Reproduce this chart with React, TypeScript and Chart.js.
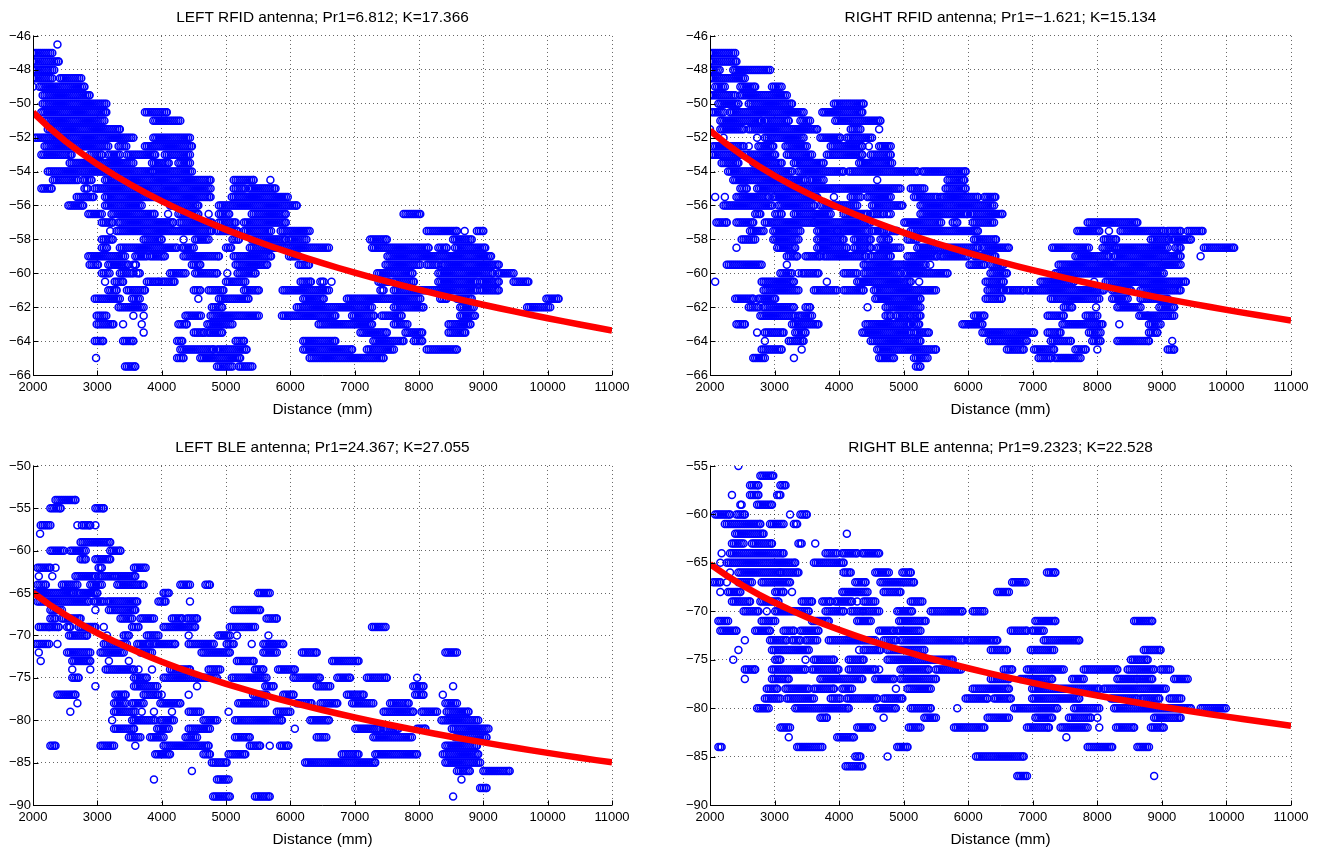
import React, { useEffect, useRef } from "react";
import { Chart, registerables } from "chart.js";

Chart.register(...registerables);

// ---------------- data ----------------
const X_TICKS = [2000, 3000, 4000, 5000, 6000, 7000, 8000, 9000, 10000, 11000];
const RFID_Y_TICKS = [-66, -64, -62, -60, -58, -56, -54, -52, -50, -48, -46];
const LEFT_BLE_Y_TICKS = [-90, -85, -80, -75, -70, -65, -60, -55, -50];
const RIGHT_BLE_Y_TICKS = [-90, -85, -80, -75, -70, -65, -60, -55];

const PANEL_TITLES = [
  "LEFT RFID antenna; Pr1=6.812; K=17.366",
  "RIGHT RFID antenna; Pr1=\u22121.621; K=15.134",
  "LEFT BLE antenna; Pr1=24.367; K=27.055",
  "RIGHT BLE antenna; Pr1=9.2323; K=22.528",
];
const X_LABEL = "Distance (mm)";

// log-distance model parameters stated in each title: RSSI = Pr1 - K*log10(d)
const PR1 = [6.812, -1.621, 24.367, 9.2323];
const K = [17.366, 15.134, 27.055, 22.528];
const FIT_DISTANCES = [
  2000, 2250, 2500, 2750, 3000, 3250, 3500, 3750, 4000, 4250, 4500, 4750, 5000,
  5250, 5500, 5750, 6000, 6250, 6500, 6750, 7000, 7250, 7500, 7750, 8000, 8250,
  8500, 8750, 9000, 9250, 9500, 9750, 10000, 10250, 10500, 10750, 11000,
];

// Measured RSSI bands: [rssi, xStart, xEnd, xStart, xEnd, ...] (mm).
// Each pair is a band of densely overlapping markers read off the picture.
const LEFT_RFID_RUNS: number[][] = [
  [-46.5, 2380, 2380],
  [-47, 2000, 2300],
  [-47.5, 2000, 2400],
  [-48, 2000, 2330],
  [-48.5, 2000, 2300, 2420, 2750],
  [-49, 2000, 2000, 2100, 2800],
  [-49.5, 2150, 2880],
  [-50, 2150, 3140],
  [-50.5, 2130, 3140, 3740, 4080],
  [-51, 2180, 3110, 3870, 4290],
  [-51.5, 2230, 3350],
  [-52, 2030, 3560, 3870, 4440],
  [-52.5, 2180, 3170, 3330, 3450, 3740, 4470],
  [-53, 2130, 2600, 2880, 3070, 3170, 3350, 3460, 3900, 4050, 4440],
  [-53.5, 2570, 3560, 3850, 4110, 4260, 4440],
  [-54, 2230, 3850, 3870, 4470],
  [-54.5, 2310, 2700, 2780, 2910, 3120, 4760, 5120, 5430, 5690, 5690],
  [-55, 2130, 2290, 2800, 2850, 2960, 4760, 5120, 5300, 5360, 5770],
  [-55.5, 2680, 2940, 3120, 4760, 5090, 5960],
  [-56, 2550, 2780, 3120, 3690, 4130, 4570, 4890, 6100],
  [-56.5, 2860, 3070, 3220, 3890, 4100, 4100, 4260, 4570, 4730, 4730, 4890, 5050, 5400, 5930, 7760, 8020],
  [-57, 3070, 3240, 3330, 4180, 4280, 4780, 4890, 5150, 5280, 5930],
  [-57.5, 3200, 3200, 3300, 4780, 4860, 5180, 5280, 5700, 5850, 6300, 8120, 8590, 8710, 8710, 8900, 9000],
  [-58, 3070, 3240, 3720, 4000, 4340, 4340, 4520, 4730, 5100, 5200, 5400, 5930, 5980, 6250, 7240, 7500, 8530, 8820],
  [-58.5, 3070, 3150, 3350, 4240, 4320, 4500, 5000, 5080, 5370, 6600, 7270, 8150, 8300, 8430, 8560, 9030],
  [-59, 2860, 3430, 3590, 3770, 3820, 4050, 4340, 4890, 5120, 5700, 5980, 6130, 7510, 9120],
  [-59.5, 2880, 3010, 3170, 3480, 3560, 3600, 4470, 4600, 5150, 5640, 6130, 6290, 7480, 8020, 8120, 8300, 8350, 9240],
  [-60, 3070, 3190, 3350, 3560, 3610, 3660, 4130, 4370, 4520, 4860, 5020, 5020, 5180, 5460, 7350, 7900, 8300, 9150, 9230, 9470],
  [-60.5, 3120, 3120, 3270, 3400, 3770, 3960, 4000, 4200, 5000, 5300, 6160, 6320, 6466, 6520, 6640, 6640, 7370, 7530, 7610, 7920, 8300, 8900, 8950, 9240, 9470, 9700],
  [-61, 3170, 3300, 3460, 3740, 4500, 4600, 4730, 4960, 5280, 5510, 5880, 6600, 7400, 7450, 7610, 8900, 8950, 9240],
  [-61.5, 2960, 3350, 3540, 3660, 4570, 4570, 4890, 5350, 6200, 6520, 6880, 8020, 8330, 8430, 8590, 8820, 9980, 10170],
  [-62, 3330, 3720, 4780, 4940, 6100, 7270, 7610, 8070, 8640, 8850, 9680, 10040],
  [-62.5, 2990, 3140, 3560, 3560, 3720, 3720, 4370, 4610, 4760, 5510, 5870, 6700, 6960, 7300, 7420, 7730, 8640, 8870],
  [-63, 2990, 3250, 3400, 3400, 3690, 3690, 4260, 4390, 4710, 5100, 6440, 7270, 7610, 7820, 8460, 8800],
  [-63.5, 3720, 3720, 4500, 4660, 4710, 4940, 7090, 7500, 7790, 8050, 8460, 8720],
  [-64, 2960, 3090, 3400, 3560, 4240, 4320, 5150, 5280, 6200, 6700, 7290, 7760, 7920, 8050],
  [-64.5, 4290, 4810, 4860, 5320, 6200, 6960, 7190, 7610, 8120, 8590],
  [-65, 2980, 2980, 4240, 4340, 4600, 5220, 6300, 7450],
  [-65.5, 3430, 3590, 4860, 5100, 5200, 5410],
];

const RIGHT_RFID_RUNS: number[][] = [
  [-47, 2000, 2390],
  [-47.5, 2000, 2410],
  [-48, 2000, 2150, 2360, 2930],
  [-48.5, 2000, 2540],
  [-49, 2080, 2230, 2470, 2700, 2960, 3110],
  [-49.5, 2000, 2390, 2470, 3190],
  [-50, 2130, 2440, 2600, 3270, 3920, 4380],
  [-50.5, 2030, 2210, 2310, 3450, 3740, 4360],
  [-51, 2160, 2800, 2850, 3220, 3400, 3550, 3940, 4640],
  [-51.5, 2000, 2000, 2160, 2520, 2600, 3660, 4180, 4330, 4620, 4620],
  [-52, 2210, 2210, 2730, 2730, 2850, 3450, 3710, 4020, 4120, 4510],
  [-52.5, 2050, 2520, 2600, 2600, 2750, 2980, 3170, 3500, 3870, 4360, 4460, 4460, 4620, 4800],
  [-53, 2030, 2470, 2540, 3010, 3190, 3580, 3810, 4360, 4490, 4800],
  [-53.5, 2180, 2440, 2670, 3110, 3300, 3760, 4310, 4820],
  [-54, 2280, 3270, 3370, 4070, 4150, 5210, 5290, 5960],
  [-54.5, 2360, 3480, 3550, 3760, 4590, 4590, 5680, 5940],
  [-55, 2470, 2570, 2730, 4950, 5110, 5320, 5650, 5960],
  [-55.5, 2080, 2080, 2230, 2230, 2410, 2910, 2980, 3660, 3920, 3920, 4180, 4330, 4440, 4800, 5160, 5520, 5570, 5760, 5780, 6150, 6250, 6420],
  [-56, 2210, 2960, 3060, 3610, 3710, 4280, 4510, 4980, 5260, 6400],
  [-56.5, 2700, 2780, 3010, 3110, 3300, 3870, 4070, 4440, 4490, 4690, 4740, 4800, 5260, 5990, 6040, 6530],
  [-57, 2100, 2260, 2410, 2670, 2850, 3610, 3630, 4490, 5010, 5580, 5760, 5830, 6070, 6400, 7850, 8620],
  [-57.5, 2620, 2830, 2980, 3400, 3660, 3970, 3990, 4440, 4510, 4690, 4740, 4900, 5110, 6150, 7690, 8030, 8180, 8180, 8360, 9030, 9090, 9290, 9400, 9630],
  [-58, 2490, 2700, 2980, 3370, 3660, 4070, 4230, 4490, 4640, 4770, 5060, 5210, 6090, 6430, 8100, 8290, 8830, 9110, 9160, 9450],
  [-58.5, 2410, 2410, 3040, 3320, 3660, 4120, 4230, 4490, 4590, 4950, 5210, 6150, 6220, 6630, 7300, 7870, 8080, 8290, 8310, 9090, 9210, 9290, 9650, 10120],
  [-59, 3190, 3350, 3480, 3710, 3760, 4410, 4490, 4800, 5060, 5520, 5570, 5990, 6100, 6420, 7660, 8180, 8260, 9290, 9600, 9600],
  [-59.5, 2260, 2800, 3190, 3190, 4380, 5340, 5410, 5410, 6020, 6250, 6345, 6550, 7400, 9290],
  [-60, 3090, 3270, 3370, 3370, 3420, 3680, 4070, 4280, 4380, 4950, 5010, 5680, 6345, 6600, 7350, 9030],
  [-60.5, 2080, 2080, 2800, 3300, 3810, 3810, 4280, 5110, 5240, 5240, 6270, 6550, 7120, 7640, 7950, 7950, 8130, 9370],
  [-61, 2830, 3370, 3610, 3970, 4070, 4380, 4540, 5500, 6300, 6550, 6600, 6860, 6910, 8100, 8230, 8520, 8670, 9290],
  [-61.5, 2390, 2670, 2750, 3010, 4560, 5260, 6270, 6520, 7280, 8030, 8230, 8470, 8670, 9090],
  [-62, 2600, 2750, 2830, 3300, 3480, 3550, 4440, 4440, 4720, 5260, 7480, 7610, 7980, 7980, 8310, 8670, 8960, 9190],
  [-62.5, 2780, 3320, 3370, 3580, 4720, 4800, 4880, 5110, 5150, 5260, 6090, 6250, 7230, 7480, 7820, 8000, 8650, 8780, 8800, 9190],
  [-63, 2410, 2540, 3270, 3680, 4410, 5110, 5160, 5240, 5910, 6220, 7460, 8080, 8340, 8340, 8800, 8980],
  [-63.5, 2730, 2730, 2850, 3140, 3320, 3480, 4360, 5110, 5160, 5390, 6220, 7020, 7230, 7430, 7870, 8050, 8800, 8930],
  [-64, 2850, 2850, 3220, 3450, 4490, 5260, 6320, 6910, 7280, 7590, 7920, 8050, 8310, 8800, 9160, 9160],
  [-64.5, 2800, 3110, 3420, 3420, 4590, 5500, 6600, 6860, 7020, 7330, 7660, 7820, 8000, 8000, 9090, 9190],
  [-65, 2670, 2850, 3300, 3300, 4620, 4850, 5160, 5370, 7090, 7280, 7350, 7740],
  [-65.5, 5190, 5260],
];

const LEFT_BLE_RUNS: number[][] = [
  [-54, 2350, 2660],
  [-55, 2270, 2430, 2970, 3100],
  [-57, 2120, 2270, 2690, 2690, 2760, 2890, 2970, 2970],
  [-58, 2110, 2110],
  [-59, 2740, 3200],
  [-60, 2270, 2480, 2580, 2820, 3200, 3360],
  [-61, 2740, 2820, 2970, 3200],
  [-62, 2070, 2270, 2350, 2350, 3020, 3070, 3570, 3750],
  [-63, 2090, 2090, 2300, 2300, 2660, 2970, 3020, 3260, 3280, 3590],
  [-64, 2070, 2200, 2450, 2690, 2890, 3070, 3310, 3720, 4290, 4440, 4680, 4750],
  [-65, 2020, 2640, 2690, 3000, 4030, 4110, 5500, 5680],
  [-66, 2070, 2870, 2950, 3100, 3150, 3620, 3950, 4060, 4440, 4440],
  [-67, 2270, 2450, 2970, 2970, 3180, 3590, 5120, 5530],
  [-68, 2270, 2350, 2450, 2740, 3360, 3540, 3670, 3880, 4160, 4320, 4390, 4550, 5630, 5790],
  [-69, 2090, 2250, 2270, 2400, 2530, 2580, 2710, 2970, 3100, 3100, 3540, 3640, 4030, 4520, 5060, 5450, 7270, 7480],
  [-70, 2560, 2840, 3150, 3150, 3410, 3490, 3770, 3950, 4420, 4420, 4880, 5060, 5170, 5170, 5660, 5660],
  [-71, 2040, 2250, 2380, 2380, 3100, 3460, 3620, 3820, 3870, 4210, 4420, 4810, 5010, 5120, 5400, 5400, 5580, 5890],
  [-72, 2090, 2090, 2530, 2890, 3050, 3410, 3670, 3850, 4620, 5060, 5580, 5790, 6180, 6410, 8410, 8590],
  [-73, 2120, 2120, 2610, 2890, 3180, 3180, 3490, 3490, 5170, 5430, 6650, 7060],
  [-74, 2610, 2610, 2890, 2890, 3130, 3570, 3640, 3640, 3850, 3850, 4130, 4440, 4730, 4910, 5450, 5580, 5810, 6070],
  [-75, 2610, 2710, 3570, 3770, 4030, 4860, 5090, 5630, 6050, 6460, 6730, 6930, 7190, 7500, 7970, 7970],
  [-76, 2970, 2970, 3570, 3930, 4550, 4550, 5610, 5740, 6410, 6620, 7910, 8070, 8530, 8530],
  [-77, 2380, 2660, 3280, 3440, 3720, 3950, 4000, 4000, 4420, 4420, 5420, 5630, 5890, 6050, 6880, 7140, 7940, 8070, 8370, 8370],
  [-78, 2690, 2690, 3260, 3440, 3540, 3720, 3980, 4290, 5190, 5610, 6100, 6330, 6470, 6730, 6960, 7290, 7550, 7840, 8410, 8590],
  [-79, 2580, 2580, 3260, 3590, 3690, 3690, 3880, 3880, 4160, 4160, 4420, 4600, 5040, 5040, 5790, 6000, 7450, 7910, 8040, 8280, 8430, 8770],
  [-80, 3230, 3230, 3540, 3900, 3980, 4190, 4650, 4860, 5140, 5870, 6310, 6600, 8350, 8920],
  [-81, 3260, 3570, 3930, 4110, 4420, 4750, 6070, 6070, 7010, 7400, 7450, 7680, 7970, 8100, 8510, 9080],
  [-82, 3490, 3670, 3820, 4030, 4370, 4550, 5140, 5370, 6410, 6560, 7290, 7890, 8560, 9050],
  [-83, 2270, 2350, 3050, 3260, 3590, 3590, 4030, 4730, 5370, 5530, 5680, 5680, 5840, 5970, 8410, 8900],
  [-84, 3900, 4130, 4650, 4750, 5040, 5300, 6800, 7060, 7320, 7970, 8370, 8920],
  [-85, 4780, 5010, 6230, 7320, 8410, 8950],
  [-86, 4470, 4470, 8590, 8790, 9000, 9410],
  [-87, 3880, 3880, 4860, 5040, 8660, 8660],
  [-88, 8950, 9050],
  [-89, 4800, 5060, 5450, 5680, 8530, 8530],
];

const RIGHT_BLE_RUNS: number[][] = [
  [-55, 2440, 2440],
  [-56, 2780, 2980],
  [-57, 2620, 2750, 3090, 3170],
  [-58, 2340, 2340, 2620, 2750, 3040, 3090],
  [-59, 2470, 2490, 2730, 2960],
  [-60, 2080, 2310, 2410, 2540, 3240, 3240, 3400, 3500],
  [-61, 2230, 2780, 2930, 3140, 3300, 3350],
  [-62, 2390, 2830, 4120, 4120],
  [-63, 2340, 2520, 2650, 2960, 3370, 3420, 3630, 3630],
  [-64, 2180, 2180, 2310, 3140, 3790, 3970, 4050, 4280, 4360, 4620],
  [-65, 2160, 2160, 2260, 3320, 3610, 4070],
  [-66, 2310, 2310, 2440, 3090, 3110, 3370, 4070, 4180, 4560, 4770, 4980, 5110, 7220, 7350],
  [-67, 2050, 2160, 2260, 2260, 2440, 2650, 2800, 3240, 4250, 4410, 4640, 5160, 6680, 6890],
  [-68, 2160, 2160, 2280, 2470, 3010, 3140, 3270, 3270, 4050, 4440, 4690, 4950, 6450, 6630],
  [-69, 2340, 2620, 2780, 3060, 3420, 3580, 3740, 3870, 3940, 4200, 4280, 4280, 4380, 4560, 5110, 5290],
  [-70, 2520, 2750, 2880, 2880, 3010, 3530, 3790, 4070, 4180, 4360, 4380, 4620, 4900, 5130, 5420, 5910, 6070, 6250],
  [-71, 2130, 2280, 2800, 3010, 3580, 3840, 4280, 4490, 4930, 5340, 7040, 7350, 8570, 8850],
  [-72, 2160, 2410, 2700, 2930, 3140, 3300, 3400, 3680, 4620, 4850, 4900, 5260, 6660, 6910, 6990, 7170],
  [-73, 2540, 2540, 2930, 3190, 3270, 3400, 3480, 3660, 3840, 4560, 4690, 4880, 4950, 5940, 5990, 6380, 6400, 6450, 7170, 7720],
  [-74, 2440, 2440, 2960, 3530, 4310, 4310, 4380, 4640, 4750, 5320, 6350, 6600, 6970, 7330, 8720, 8980],
  [-75, 2360, 2360, 3010, 3090, 3480, 3480, 3610, 3920, 4150, 4380, 4750, 5760, 8520, 8780],
  [-76, 2540, 2700, 2960, 3480, 3580, 3990, 4150, 4560, 4620, 4620, 4950, 5390, 5500, 5890, 6550, 6680, 6910, 7480, 7790, 8310, 8470, 8880, 8980, 9130],
  [-77, 2540, 2540, 2960, 3220, 3710, 4360, 4560, 4850, 4950, 5500, 6350, 6630, 6810, 7300, 7610, 7790, 8310, 8620, 8650, 8850, 9190, 9400],
  [-78, 2880, 3040, 3170, 3530, 3610, 3920, 4050, 4200, 4880, 4880, 5060, 5420, 6070, 6630, 6990, 8030, 8100, 9060],
  [-79, 2850, 3090, 3190, 3610, 3870, 4020, 4120, 4590, 4690, 4980, 5960, 6300, 6400, 6660, 6990, 7720, 8210, 8620, 8670, 8960, 9120, 9300],
  [-80, 2730, 2910, 3320, 4150, 4590, 4880, 5110, 5420, 5830, 5830, 6710, 7380, 7640, 8030, 8260, 9450, 9600, 9990],
  [-81, 3710, 3810, 4690, 4690, 5320, 5500, 6300, 6630, 7040, 7300, 7560, 7900, 8000, 8000, 8880, 9290],
  [-82, 3090, 3240, 4280, 4510, 5080, 5260, 5780, 6250, 6910, 7250, 7430, 7850, 8030, 8030, 8290, 8570, 8830, 9030],
  [-83, 3220, 3220, 3970, 4230, 7520, 7520],
  [-84, 2130, 2180, 3350, 3740, 4900, 5060, 7850, 8230, 8620, 8800],
  [-85, 4250, 4330, 4750, 4750, 6120, 6860],
  [-86, 4100, 4360],
  [-87, 6760, 6910, 8880, 8880],
];

// ---------------- helpers ----------------
const FONT = "'Liberation Sans', Arial, Helvetica, sans-serif";
const MARKER_PITCH = 30; // mm between overlapping markers inside a band

function bandsToPoints(runs: number[][]) {
  const pts: { x: number; y: number }[] = [];
  for (const row of runs) {
    const y = row[0];
    for (let i = 1; i + 1 < row.length; i += 2) {
      const a = row[i];
      const b = row[i + 1];
      if (b <= a) {
        pts.push({ x: a, y });
        continue;
      }
      for (let x = a; x < b; x += MARKER_PITCH) pts.push({ x, y });
      pts.push({ x: b, y });
    }
  }
  return pts;
}

function fitPoints(pr1: number, k: number) {
  return FIT_DISTANCES.map((d) => ({ x: d, y: pr1 - k * Math.log10(d) }));
}

const fmt = (v: number | string) => String(v).replace("-", "\u2212");

const matlabAxes = {
  id: "matlabAxes",
  afterDatasetsDraw(chart: any) {
    const { ctx, chartArea } = chart;
    const { left, right, top, bottom } = chartArea;
    const xs = chart.scales.x;
    const ys = chart.scales.y;
    const L = Math.round(left) + 0.5;
    const B = Math.round(bottom) + 0.5;
    ctx.save();
    ctx.strokeStyle = "#000";
    ctx.lineWidth = 1;
    ctx.setLineDash([]);
    ctx.beginPath();
    ctx.moveTo(L, top);
    ctx.lineTo(L, B);
    ctx.lineTo(right, B);
    for (const t of xs.ticks) {
      const px = Math.round(xs.getPixelForValue(t.value)) + 0.5;
      ctx.moveTo(px, B);
      ctx.lineTo(px, B - 5);
    }
    for (const t of ys.ticks) {
      const py = Math.round(ys.getPixelForValue(t.value)) + 0.5;
      ctx.moveTo(L, py);
      ctx.lineTo(L + 5, py);
    }
    ctx.stroke();
    ctx.restore();
  },
};

type PanelProps = {
  runs: number[][];
  yTicks: number[];
  title: string;
  pr1: number;
  k: number;
  left: number;
  top: number;
  width: number;
  height: number;
  yWidth: number;
};

function Panel(props: PanelProps) {
  const ref = useRef<HTMLCanvasElement | null>(null);
  useEffect(() => {
    if (!ref.current) return;
    const { runs, yTicks, title, pr1, k, yWidth } = props;
    const gridColor = "rgba(0,0,0,0.6)";
    const chart = new Chart(ref.current, {
      type: "scatter",
      data: {
        datasets: [
          {
            type: "line",
            data: fitPoints(pr1, k),
            borderColor: "#ff0000",
            backgroundColor: "#ff0000",
            borderWidth: 6.5,
            pointRadius: 0,
            fill: false,
            tension: 0,
            order: 0,
          } as any,
          {
            type: "scatter",
            data: bandsToPoints(runs),
            borderColor: "#0000ff",
            backgroundColor: "rgba(0,0,0,0)",
            pointBorderColor: "#0000ff",
            pointBackgroundColor: "rgba(0,0,0,0)",
            pointRadius: 3.5,
            pointHoverRadius: 3.5,
            pointBorderWidth: 1.5,
            order: 1,
          } as any,
        ],
      },
      options: {
        responsive: false,
        animation: false,
        devicePixelRatio: 1,
        events: [],
        layout: { padding: { left: 0, right: 25, top: 0, bottom: 0 } },
        plugins: {
          legend: { display: false },
          tooltip: { enabled: false },
          title: {
            display: true,
            fullSize: false,
            text: title,
            color: "#000",
            font: { family: FONT, size: 15.4, weight: "normal" as any },
            padding: { top: 8.8, bottom: 8.7 },
          },
        },
        scales: {
          x: {
            type: "linear",
            min: X_TICKS[0],
            max: X_TICKS[X_TICKS.length - 1],
            afterBuildTicks: (s: any) => {
              s.ticks = X_TICKS.map((value) => ({ value }));
            },
            afterFit: (s: any) => {
              s.height = 50;
            },
            grid: { color: gridColor, lineWidth: 1, drawTicks: false },
            border: { display: false, dash: [1, 3] },
            ticks: {
              color: "#000",
              font: { family: FONT, size: 13 },
              padding: 5,
              maxRotation: 0,
              autoSkip: false,
              callback: (v: any) => fmt(v),
            },
            title: {
              display: true,
              text: X_LABEL,
              color: "#000",
              font: { family: FONT, size: 15.4 },
              padding: { top: 0, bottom: 5.8 },
            },
          },
          y: {
            type: "linear",
            min: yTicks[0],
            max: yTicks[yTicks.length - 1],
            afterBuildTicks: (s: any) => {
              s.ticks = yTicks.map((value) => ({ value }));
            },
            afterFit: (s: any) => {
              s.width = yWidth;
            },
            grid: { color: gridColor, lineWidth: 1, drawTicks: false },
            border: { display: false, dash: [1, 3] },
            ticks: {
              color: "#000",
              font: { family: FONT, size: 13 },
              padding: 2,
              autoSkip: false,
              callback: (v: any) => fmt(v),
            },
          },
        },
      },
      plugins: [matlabAxes],
    });
    return () => chart.destroy();
  }, []);
  return (
    <canvas
      ref={ref}
      width={props.width}
      height={props.height}
      style={{ position: "absolute", left: props.left, top: props.top, width: props.width, height: props.height }}
    />
  );
}

export default function App() {
  return (
    <div
      style={{
        position: "fixed",
        left: 0,
        top: 0,
        width: 1322,
        height: 854,
        overflow: "hidden",
        background: "#fff",
      }}
    >
      <Panel runs={LEFT_RFID_RUNS} yTicks={RFID_Y_TICKS} title={PANEL_TITLES[0]} pr1={PR1[0]} k={K[0]}
        left={0} top={0} width={637} height={425} yWidth={33} />
      <Panel runs={RIGHT_RFID_RUNS} yTicks={RFID_Y_TICKS} title={PANEL_TITLES[1]} pr1={PR1[1]} k={K[1]}
        left={660} top={0} width={656} height={425} yWidth={50} />
      <Panel runs={LEFT_BLE_RUNS} yTicks={LEFT_BLE_Y_TICKS} title={PANEL_TITLES[2]} pr1={PR1[2]} k={K[2]}
        left={0} top={430} width={637} height={425} yWidth={33} />
      <Panel runs={RIGHT_BLE_RUNS} yTicks={RIGHT_BLE_Y_TICKS} title={PANEL_TITLES[3]} pr1={PR1[3]} k={K[3]}
        left={660} top={430} width={656} height={425} yWidth={50} />
    </div>
  );
}
